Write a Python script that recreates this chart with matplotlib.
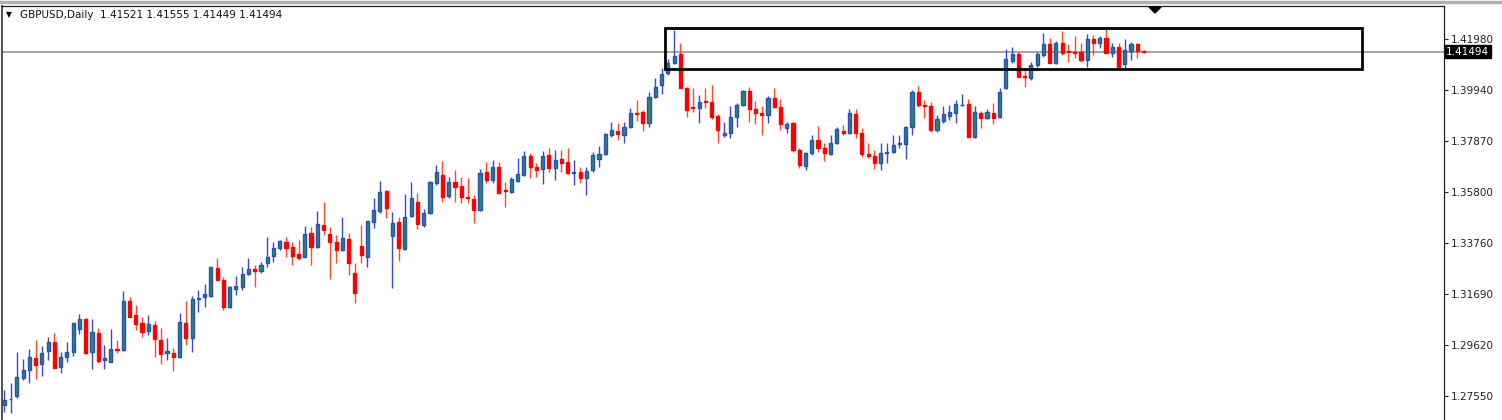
import matplotlib
matplotlib.use("Agg")
import matplotlib.pyplot as plt
from matplotlib.patches import Rectangle, Polygon
from matplotlib import transforms
import numpy as np

# GBPUSD daily candles
opens = [1.2718, 1.2741, 1.2755, 1.2828, 1.2860, 1.2909, 1.2884, 1.2937, 1.2973, 1.2872,
         1.2913, 1.2933, 1.3026, 1.3066, 1.2933, 1.3010, 1.2901, 1.2893, 1.2945, 1.2941,
         1.3139, 1.3083, 1.3050, 1.3018, 1.3042, 1.2982, 1.2929, 1.2929, 1.2913, 1.3050,
         1.2990, 1.3148, 1.3156, 1.3160, 1.3273, 1.3225, 1.3115, 1.3188, 1.3196, 1.3249,
         1.3269, 1.3261, 1.3293, 1.3322, 1.3354, 1.3378, 1.3358, 1.3330, 1.3318, 1.3415,
         1.3358, 1.3447, 1.3411, 1.3378, 1.3346, 1.3390, 1.3253, 1.3362, 1.3318, 1.3459,
         1.3504, 1.3585, 1.3402, 1.3459, 1.3350, 1.3483, 1.3540, 1.3447, 1.3496, 1.3617,
         1.3650, 1.3565, 1.3621, 1.3605, 1.3561, 1.3552, 1.3508, 1.3662, 1.3629, 1.3682,
         1.3589, 1.3581, 1.3625, 1.3650, 1.3726, 1.3682, 1.3674, 1.3730, 1.3678, 1.3714,
         1.3702, 1.3658, 1.3662, 1.3637, 1.3670, 1.3714, 1.3734, 1.3811, 1.3828, 1.3811,
         1.3844, 1.3902, 1.3904, 1.3860, 1.3965, 1.4014, 1.4062, 1.4103, 1.4139, 1.4002,
         1.3925, 1.3921, 1.3951, 1.3945, 1.3888, 1.3811, 1.3819, 1.3884, 1.3933, 1.3990,
         1.3917, 1.3900, 1.3892, 1.3961, 1.3925, 1.3840, 1.3860, 1.3751, 1.3686, 1.3739,
         1.3791, 1.3759, 1.3734, 1.3779, 1.3828, 1.3819, 1.3896, 1.3819, 1.3734, 1.3726,
         1.3698, 1.3739, 1.3743, 1.3775, 1.3775, 1.3844, 1.3986, 1.3933, 1.3929, 1.3832,
         1.3868, 1.3888, 1.3900, 1.3931, 1.3937, 1.3803, 1.3900, 1.3880, 1.3900, 1.3884,
         1.4002, 1.4111, 1.4139, 1.4050, 1.4042, 1.4095, 1.4135, 1.4180, 1.4103, 1.4184,
         1.4153, 1.4149, 1.4147, 1.4115, 1.4200, 1.4184, 1.4204, 1.4143, 1.4168, 1.4099,
         1.4151, 1.4180, 1.41521]
highs = [1.2779, 1.2808, 1.2933, 1.2905, 1.2945, 1.2982, 1.2957, 1.2994, 1.3010, 1.2933,
         1.2973, 1.3050, 1.3087, 1.3070, 1.3066, 1.3030, 1.2961, 1.3026, 1.2982, 1.3180,
         1.3156, 1.3123, 1.3075, 1.3083, 1.3058, 1.3030, 1.2990, 1.2949, 1.3091, 1.3139,
         1.3160, 1.3184, 1.3208, 1.3277, 1.3314, 1.3237, 1.3200, 1.3241, 1.3277, 1.3314,
         1.3285, 1.3297, 1.3398, 1.3378, 1.3386, 1.3398, 1.3378, 1.3386, 1.3443, 1.3439,
         1.3504, 1.3540, 1.3439, 1.3406, 1.3479, 1.3415, 1.3293, 1.3447, 1.3463, 1.3556,
         1.3625, 1.3589, 1.3500, 1.3479, 1.3573, 1.3621, 1.3577, 1.3512, 1.3625, 1.3690,
         1.3706, 1.3642, 1.3670, 1.3642, 1.3637, 1.3569, 1.3674, 1.3702, 1.3710, 1.3702,
         1.3621, 1.3642, 1.3718, 1.3746, 1.3738, 1.3698, 1.3746, 1.3758, 1.3751, 1.3751,
         1.3758, 1.3710, 1.3682, 1.3682, 1.3742, 1.3767, 1.3819, 1.3864, 1.3860, 1.3864,
         1.3921, 1.3953, 1.3913, 1.3986, 1.4042, 1.4083, 1.4119, 1.4237, 1.4182, 1.4006,
         1.4002, 1.3973, 1.4002, 1.4014, 1.3896, 1.3864, 1.3929, 1.3941, 1.3994, 1.4006,
         1.3949, 1.3929, 1.3969, 1.4002, 1.3957, 1.3864, 1.3864, 1.3759, 1.3743, 1.3811,
         1.3848, 1.3779, 1.3811, 1.3844, 1.3852, 1.3917, 1.3917, 1.3840, 1.3779, 1.3751,
         1.3779, 1.3779, 1.3811, 1.3811, 1.3848, 1.3994, 1.4010, 1.3953, 1.3945, 1.3892,
         1.3929, 1.3933, 1.3953, 1.3977, 1.3957, 1.3929, 1.3908, 1.3917, 1.3941, 1.4002,
         1.4160, 1.4168, 1.4147, 1.4075, 1.4107, 1.4147, 1.4224, 1.4204, 1.4192, 1.4232,
         1.4180, 1.4212, 1.4184, 1.4220, 1.4216, 1.4212, 1.4249, 1.4184, 1.4184, 1.4200,
         1.4188, 1.4184, 1.41555]
lows = [1.2690, 1.2686, 1.2747, 1.2820, 1.2808, 1.2824, 1.2836, 1.2901, 1.2868, 1.2848,
        1.2893, 1.2917, 1.3006, 1.2925, 1.2864, 1.2888, 1.2864, 1.2893, 1.2929, 1.2937,
        1.3075, 1.3022, 1.2994, 1.3002, 1.2913, 1.2884, 1.2901, 1.2856, 1.2909, 1.2961,
        1.2933, 1.3095, 1.3115, 1.3156, 1.3225, 1.3103, 1.3111, 1.3164, 1.3184, 1.3245,
        1.3196, 1.3253, 1.3277, 1.3297, 1.3346, 1.3318, 1.3285, 1.3305, 1.3318, 1.3285,
        1.3354, 1.3406, 1.3229, 1.3293, 1.3342, 1.3245, 1.3131, 1.3293, 1.3277, 1.3435,
        1.3496, 1.3475, 1.3192, 1.3301, 1.3346, 1.3479, 1.3431, 1.3439, 1.3492, 1.3609,
        1.3540, 1.3556, 1.3540, 1.3536, 1.3536, 1.3455, 1.3504, 1.3617, 1.3617, 1.3573,
        1.3520, 1.3577, 1.3621, 1.3646, 1.3637, 1.3642, 1.3613, 1.3662, 1.3629, 1.3662,
        1.3654, 1.3609, 1.3617, 1.3569, 1.3662, 1.3682, 1.3730, 1.3803, 1.3791, 1.3779,
        1.3840, 1.3868, 1.3828, 1.3844, 1.3961, 1.3977, 1.4054, 1.4099, 1.4002, 1.3884,
        1.3904, 1.3860, 1.3921, 1.3876, 1.3779, 1.3803, 1.3799, 1.3844, 1.3929, 1.3864,
        1.3856, 1.3811, 1.3860, 1.3921, 1.3832, 1.3819, 1.3743, 1.3678, 1.3670, 1.3730,
        1.3743, 1.3706, 1.3730, 1.3775, 1.3811, 1.3815, 1.3799, 1.3722, 1.3718, 1.3674,
        1.3670, 1.3698, 1.3739, 1.3759, 1.3714, 1.3811, 1.3925, 1.3880, 1.3824, 1.3824,
        1.3860, 1.3872, 1.3860, 1.3929, 1.3803, 1.3799, 1.3840, 1.3876, 1.3856, 1.3880,
        1.3998, 1.4103, 1.4046, 1.4006, 1.4034, 1.4087, 1.4127, 1.4103, 1.4099, 1.4135,
        1.4107, 1.4123, 1.4107, 1.4087, 1.4135, 1.4164, 1.4143, 1.4127, 1.4083, 1.4075,
        1.4115, 1.4123, 1.41449]
closes = [1.2739, 1.2743, 1.2832, 1.2860, 1.2913, 1.2880, 1.2929, 1.2973, 1.2868, 1.2913,
          1.2933, 1.3050, 1.3066, 1.2929, 1.3014, 1.2897, 1.2909, 1.2945, 1.2941, 1.3139,
          1.3075, 1.3046, 1.3014, 1.3046, 1.2985, 1.2925, 1.2937, 1.2913, 1.3054, 1.2990,
          1.3148, 1.3152, 1.3168, 1.3277, 1.3225, 1.3115, 1.3196, 1.3200, 1.3249, 1.3269,
          1.3261, 1.3285, 1.3318, 1.3354, 1.3382, 1.3354, 1.3322, 1.3314, 1.3411, 1.3358,
          1.3451, 1.3427, 1.3378, 1.3346, 1.3394, 1.3293, 1.3172, 1.3326, 1.3463, 1.3508,
          1.3581, 1.3516, 1.3455, 1.3354, 1.3479, 1.3556, 1.3451, 1.3496, 1.3621, 1.3662,
          1.3561, 1.3621, 1.3601, 1.3561, 1.3556, 1.3508, 1.3658, 1.3629, 1.3682, 1.3577,
          1.3585, 1.3633, 1.3654, 1.3726, 1.3682, 1.3670, 1.3726, 1.3678, 1.3710, 1.3698,
          1.3658, 1.3662, 1.3637, 1.3666, 1.3730, 1.3734, 1.3815, 1.3832, 1.3815, 1.3844,
          1.3900, 1.3898, 1.3860, 1.3965, 1.4006, 1.4058, 1.4103, 1.4131, 1.4002, 1.3913,
          1.3921, 1.3945, 1.3947, 1.3884, 1.3832, 1.3819, 1.3884, 1.3933, 1.3990, 1.3917,
          1.3900, 1.3892, 1.3961, 1.3925, 1.3856, 1.3856, 1.3751, 1.3690, 1.3739, 1.3791,
          1.3759, 1.3739, 1.3779, 1.3836, 1.3819, 1.3900, 1.3819, 1.3734, 1.3726, 1.3698,
          1.3739, 1.3743, 1.3771, 1.3779, 1.3844, 1.3986, 1.3933, 1.3929, 1.3832, 1.3876,
          1.3896, 1.3904, 1.3937, 1.3933, 1.3803, 1.3904, 1.3880, 1.3904, 1.3880, 1.3986,
          1.4119, 1.4139, 1.4046, 1.4046, 1.4095, 1.4139, 1.4180, 1.4103, 1.4184, 1.4143,
          1.4149, 1.4145, 1.4115, 1.4200, 1.4184, 1.4204, 1.4143, 1.4168, 1.4087, 1.4155,
          1.4180, 1.4151, 1.41494]

price_ticks = [1.41980, 1.39940, 1.37870, 1.35800, 1.33760, 1.31690, 1.29620, 1.27550]
symbol = "GBPUSD,Daily"
last_bid = closes[-1]

# consolidation box drawn on the chart (bar index / price)
box_x0, box_x1 = 105.5, 216.9
box_lo, box_hi = 1.40786, 1.42446

bull_edge = "#2553b4"
bull_fill = "#36806c"
bull_wick = "#3a48d0"
bear_col = "#ff0000"
bear_wick = "#ff4a2a"

W, H = 1502, 420
fig = plt.figure(figsize=(W / 100, H / 100), dpi=100)
fig.patch.set_facecolor("white")
ax = fig.add_axes([2 / W, 0, 1442 / W, 414 / H])

o = np.array(opens)
h = np.array(highs)
l = np.array(lows)
c = np.array(closes)
x = np.arange(len(o))
up = c >= o

ax.vlines(x[up], l[up], h[up], color=bull_wick, lw=1, zorder=2)
ax.vlines(x[~up], l[~up], h[~up], color=bear_wick, lw=1, zorder=2)
ax.bar(x[up], (c - o)[up], bottom=o[up], width=0.5, color=bull_fill,
       edgecolor=bull_edge, linewidth=1, zorder=3)
ax.bar(x[~up], (o - c)[~up], bottom=c[~up], width=0.5, color=bear_col,
       edgecolor=bear_col, linewidth=1, zorder=3)

ax.axhline(last_bid, color="#8c8c8c", lw=1.1, zorder=1)
ax.add_patch(Rectangle((box_x0, box_lo), box_x1 - box_x0, box_hi - box_lo,
                       fill=False, edgecolor="black", lw=2, zorder=4))

ax.set_xlim(-0.37, 230)
ax.set_ylim(1.26577, 1.43336)

ax.yaxis.tick_right()
ax.set_yticks(price_ticks)
ax.set_yticklabels(["%.5f" % p for p in price_ticks])
ax.tick_params(axis="y", length=3, width=0.8, pad=2, labelsize=7.5, colors="#222222")
ax.set_xticks([])
ax.spines["bottom"].set_visible(False)
ax.spines["left"].set_color("#555555")
ax.spines["left"].set_linewidth(1.5)
for s in ("top", "right"):
    ax.spines[s].set_color("#202020")
    ax.spines[s].set_linewidth(0.9)

# current price label on the scale
trans = transforms.blended_transform_factory(ax.transAxes, ax.transData)
ax.text(1.0016, last_bid, "%.5f" % last_bid, transform=trans, ha="left", va="center",
        fontsize=7.5, color="white",
        bbox=dict(boxstyle="square,pad=0.12", fc="black", ec="black"))

# header
fig.text(6 / W, 1 - 15 / H, "\u25BC", fontsize=5.5, va="center", ha="left")
fig.text(20 / W, 1 - 15 / H, symbol + "  %.5f %.5f %.5f %.5f" % (opens[-1], highs[-1], lows[-1], closes[-1]),
         fontsize=7.5, va="center", ha="left", color="#111111")

# chart shift marker and window frame
fig.patches.append(Polygon([[1149 / W, 1 - 7 / H], [1161 / W, 1 - 7 / H], [1155 / W, 1 - 13 / H]],
                           closed=True, color="black", transform=fig.transFigure, figure=fig))
fig.add_artist(plt.Line2D([0, 1], [1 - 1.5 / H, 1 - 1.5 / H], color="#b0b0b0", lw=2.5,
                          transform=fig.transFigure))

fig.savefig("out.png", dpi=100)
